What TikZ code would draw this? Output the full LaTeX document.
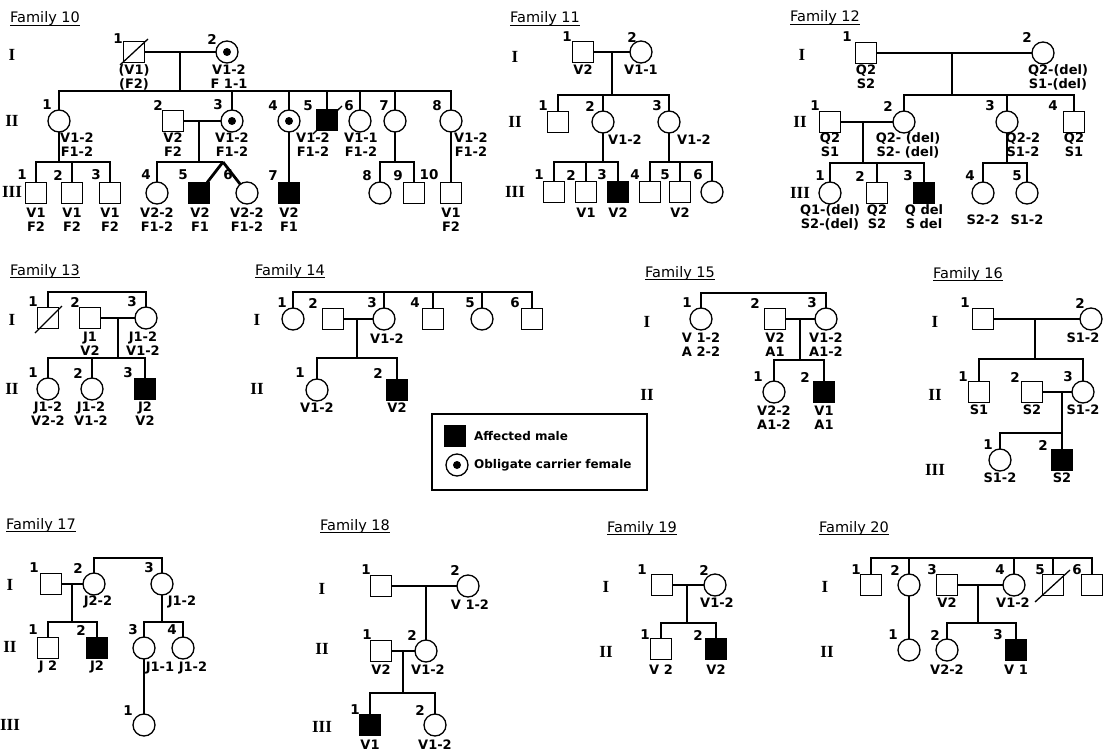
\documentclass[tikz,border=0pt]{standalone}
\usepackage{fontspec}
\setmainfont{DejaVu Sans}
\newfontfamily\pdRomFace{Liberation Serif}
\newcommand\pdRom{\pdRomFace\bfseries\fontsize{17}{17}\selectfont}
\newcommand\pdNum{\bfseries\fontsize{13.5}{13.5}\selectfont}
\newcommand\pdGt{\bfseries\fontsize{13}{14}\selectfont}
\newcommand\pdTtl{\fontsize{14.5}{15}\selectfont}
\newcommand\pdLeg{\bfseries\fontsize{12}{12}\selectfont}
\tikzset{
  base/.style={draw, line width=1.3pt, inner sep=0pt, outer sep=0pt},
  male/.style={base, rectangle, minimum size=21pt},
  female/.style={base, circle, minimum size=22pt},
  affm/.style={male, fill=black},
  carrier/.style={female, path picture={\fill (path picture bounding box.center) circle (4pt);}},
  conn/.style={line width=2.8pt},
  slash/.style={line width=1.3pt},
  num/.style={font=\pdNum, inner sep=0pt},
  gtl/.style={font=\pdGt, inner sep=0pt, align=center},
  rom/.style={font=\pdRom, inner sep=0pt},
  ttl/.style={font=\pdTtl, inner sep=0pt, anchor=base west},
  uline/.style={line width=1.4pt},
  lgt/.style={font=\pdLeg, inner sep=0pt, anchor=west},
}
\newcommand\pdP[7]{\node[#1] (#2) at (#3,#4) {}; \node[num] (#2n) at (#6,#7) {#5};}
\newcommand\pdG[4]{\node[gtl] (#1) at (#2,#3) {#4};}
\newcommand\pdT[4]{\node[ttl] (#1) at (#2,#3) {#4}; \draw[uline] ([yshift=-2.5pt]#1.base west) -- ([yshift=-2.5pt]#1.base east);}
\begin{document}
\begin{tikzpicture}[x=1pt,y=-1pt]
\useasboundingbox (0,0) rectangle (1103,752);

% ================= Family 10
\pdT{t10}{10}{23}{Family 10}
\node[rom] (r10a) at (12,55) {I};
\node[rom] (r10b) at (12,121) {II};
\node[rom] (r10c) at (12,192) {III};
\pdP{male}{f10a1}{134}{52}{1}{118}{39}
\draw[slash] ([shift={(-14,13)}]f10a1.center) -- ([shift={(14,-13)}]f10a1.center);
\pdP{carrier}{f10a2}{227}{52}{2}{212}{39}
\draw[conn] (f10a1) -- (f10a2);
\coordinate (f10m1) at (180,52);
\coordinate (f10d1) at (180,91);
\draw[conn] (f10m1) -- (f10d1);
\pdP{female}{f10b1}{59}{121}{1}{47}{105}
\pdP{male}{f10b2}{173}{121}{2}{158}{105}
\pdP{carrier}{f10b3}{232}{121}{3}{218}{105}
\pdP{carrier}{f10b4}{289}{121}{4}{273}{106}
\pdP{affm}{f10b5}{327}{120}{5}{308}{106}
\draw[slash] ([shift={(-14,14)}]f10b5.center) -- ([shift={(15,-14)}]f10b5.center);
\pdP{female}{f10b6}{360}{121}{6}{349}{106}
\pdP{female}{f10b7}{395}{121}{7}{384}{106}
\pdP{female}{f10b8}{451}{121}{8}{437}{106}
\foreach \k in {b1,b3,b4,b5,b6,b7,b8} \draw[conn] (f10d1) -| (f10\k);
\draw[conn] (f10b2) -- (f10b3);
\coordinate (f10m2) at (199,121);
\coordinate (f10d2) at (199,162);
\draw[conn] (f10m2) -- (f10d2);
\coordinate (f10d0) at (59,162);
\draw[conn] (f10b1) -- (f10d0);
\pdP{male}{f10c1}{36}{193}{1}{22}{175}
\pdP{male}{f10c2}{72}{193}{2}{58}{175}
\pdP{male}{f10c3}{110}{193}{3}{96}{175}
\foreach \k in {c1,c2,c3} \draw[conn] (f10d0) -| (f10\k);
\pdP{female}{f10c4}{157}{193}{4}{146}{175}
\pdP{affm}{f10c5}{199}{193}{5}{183}{175}
\pdP{female}{f10c6}{247}{193}{6}{228}{175}
\draw[conn] (f10d2) -| (f10c4);
\coordinate (f10tw) at (223,162);
\draw[conn] (f10d2) -- (f10tw);
\draw[conn] (f10tw) -- (f10c5);
\draw[conn] (f10tw) -- (f10c6);
\pdP{affm}{f10c7}{289}{193}{7}{273}{176}
\draw[conn] (f10b4) -- (f10c7);
\coordinate (f10d3) at (395,162);
\draw[conn] (f10b7) -- (f10d3);
\pdP{female}{f10c8}{380}{193}{8}{367}{176}
\pdP{male}{f10c9}{414}{193}{9}{398}{176}
\foreach \k in {c8,c9} \draw[conn] (f10d3) -| (f10\k);
\pdP{male}{f10c10}{451}{193}{10}{429}{175}
\draw[conn] (f10b8) -- (f10c10);
\pdG{f10g1}{134}{77}{(V1)\\(F2)}
\pdG{f10g2}{229}{77}{V1-2\\F 1-1}
\pdG{f10g3}{77}{145}{V1-2\\F1-2}
\pdG{f10g4}{173}{145}{V2\\F2}
\pdG{f10g5}{232}{145}{V1-2\\F1-2}
\pdG{f10g6}{313}{145}{V1-2\\F1-2}
\pdG{f10g7}{361}{145}{V1-1\\F1-2}
\pdG{f10g8}{471}{145}{V1-2\\F1-2}
\pdG{f10g9}{36}{220}{V1\\F2}
\pdG{f10g10}{72}{220}{V1\\F2}
\pdG{f10g11}{110}{220}{V1\\F2}
\pdG{f10g12}{157}{220}{V2-2\\F1-2}
\pdG{f10g13}{200}{220}{V2\\F1}
\pdG{f10g14}{247}{220}{V2-2\\F1-2}
\pdG{f10g15}{289}{220}{V2\\F1}
\pdG{f10g16}{451}{220}{V1\\F2}

% ================= Family 11
\pdT{t11}{510}{23}{Family 11}
\node[rom] (r11a) at (515,57) {I};
\node[rom] (r11b) at (515,122) {II};
\node[rom] (r11c) at (515,192) {III};
\pdP{male}{f11a1}{583}{52}{1}{567}{37}
\pdP{female}{f11a2}{641}{52}{2}{632}{37}
\draw[conn] (f11a1) -- (f11a2);
\coordinate (f11m1) at (612,52);
\coordinate (f11d1) at (612,95);
\draw[conn] (f11m1) -- (f11d1);
\pdP{male}{f11b1}{558}{122}{1}{543}{106}
\pdP{female}{f11b2}{603}{122}{2}{590}{106}
\pdP{female}{f11b3}{669}{122}{3}{657}{106}
\foreach \k in {b1,b2,b3} \draw[conn] (f11d1) -| (f11\k);
\coordinate (f11d2) at (603,162);
\coordinate (f11d3) at (669,162);
\draw[conn] (f11b2) -- (f11d2);
\draw[conn] (f11b3) -- (f11d3);
\pdP{male}{f11c1}{554}{192}{1}{539}{175}
\pdP{male}{f11c2}{586}{192}{2}{571}{175}
\pdP{affm}{f11c3}{618}{192}{3}{602}{175}
\pdP{male}{f11c4}{650}{192}{4}{635}{175}
\pdP{male}{f11c5}{680}{192}{5}{665}{175}
\pdP{female}{f11c6}{712}{192}{6}{698}{175}
\foreach \k in {c1,c2,c3} \draw[conn] (f11d2) -| (f11\k);
\foreach \k in {c4,c5,c6} \draw[conn] (f11d3) -| (f11\k);
\pdG{f11g1}{583}{70}{V2}
\pdG{f11g2}{641}{70}{V1-1}
\pdG{f11g3}{625}{140}{V1-2}
\pdG{f11g4}{694}{140}{V1-2}
\pdG{f11g5}{586}{213}{V1}
\pdG{f11g6}{618}{213}{V2}
\pdG{f11g7}{680}{213}{V2}

% ================= Family 12
\pdT{t12}{790}{22}{Family 12}
\node[rom] (r12a) at (802,55) {I};
\node[rom] (r12b) at (800,122) {II};
\node[rom] (r12c) at (800,193) {III};
\pdP{male}{f12a1}{866}{53}{1}{847}{37}
\pdP{female}{f12a2}{1043}{53}{2}{1027}{37}
\draw[conn] (f12a1) -- (f12a2);
\coordinate (f12m1) at (952,53);
\coordinate (f12d1) at (952,95);
\draw[conn] (f12m1) -- (f12d1);
\pdP{male}{f12b1}{830}{122}{1}{815}{106}
\pdP{female}{f12b2}{904}{122}{2}{888}{106}
\pdP{female}{f12b3}{1007}{122}{3}{990}{106}
\pdP{male}{f12b4}{1074}{122}{4}{1053}{106}
\foreach \k in {b2,b3,b4} \draw[conn] (f12d1) -| (f12\k);
\draw[conn] (f12b1) -- (f12b2);
\coordinate (f12m2) at (863,122);
\coordinate (f12d2) at (863,163);
\draw[conn] (f12m2) -- (f12d2);
\pdP{female}{f12c1}{830}{193}{1}{820}{176}
\pdP{male}{f12c2}{877}{193}{2}{860}{176}
\pdP{affm}{f12c3}{924}{193}{3}{908}{176}
\foreach \k in {c1,c2,c3} \draw[conn] (f12d2) -| (f12\k);
\coordinate (f12d3) at (1007,163);
\draw[conn] (f12b3) -- (f12d3);
\pdP{female}{f12c4}{983}{193}{4}{970}{176}
\pdP{female}{f12c5}{1027}{193}{5}{1017}{176}
\foreach \k in {c4,c5} \draw[conn] (f12d3) -| (f12\k);
\pdG{f12g1}{866}{77}{Q2\\S2}
\pdG{f12g2}{1058}{77}{Q2-(del)\\S1-(del)}
\pdG{f12g3}{830}{145}{Q2\\S1}
\pdG{f12g4}{908}{145}{Q2- (del)\\S2- (del)}
\pdG{f12g5}{1023}{145}{Q2-2\\S1-2}
\pdG{f12g6}{1074}{145}{Q2\\S1}
\pdG{f12g7}{830}{217}{Q1-(del)\\S2-(del)}
\pdG{f12g8}{877}{217}{Q2\\S2}
\pdG{f12g9}{924}{217}{Q del\\S del}
\pdG{f12g10}{983}{220}{S2-2}
\pdG{f12g11}{1027}{220}{S1-2}

% ================= Family 13
\pdT{t13}{10}{275}{Family 13}
\node[rom] (r13a) at (12,320) {I};
\node[rom] (r13b) at (12,389) {II};
\pdP{male}{f13a1}{48}{318}{1}{33}{302}
\draw[slash] ([shift={(-13,15)}]f13a1.center) -- ([shift={(14,-12)}]f13a1.center);
\pdP{male}{f13a2}{90}{318}{2}{75}{302}
\pdP{female}{f13a3}{146}{318}{3}{132}{302}
\coordinate (f13t) at (97,292);
\foreach \k in {a1,a3} \draw[conn] (f13t) -| (f13\k);
\draw[conn] (f13a2) -- (f13a3);
\coordinate (f13m1) at (118,318);
\coordinate (f13d1) at (118,358);
\draw[conn] (f13m1) -- (f13d1);
\pdP{female}{f13b1}{48}{389}{1}{33}{373}
\pdP{female}{f13b2}{92}{389}{2}{78}{373}
\pdP{affm}{f13b3}{145}{389}{3}{128}{373}
\foreach \k in {b1,b2,b3} \draw[conn] (f13d1) -| (f13\k);
\pdG{f13g1}{90}{344}{J1\\V2}
\pdG{f13g2}{143}{344}{J1-2\\V1-2}
\pdG{f13g3}{48}{414}{J1-2\\V2-2}
\pdG{f13g4}{91}{414}{J1-2\\V1-2}
\pdG{f13g5}{145}{414}{J2\\V2}

% ================= Family 14
\pdT{t14}{255}{275}{Family 14}
\node[rom] (r14a) at (257,320) {I};
\node[rom] (r14b) at (257,389) {II};
\pdP{female}{f14a1}{293}{319}{1}{282}{303}
\pdP{male}{f14a2}{333}{319}{2}{313}{303}
\pdP{female}{f14a3}{384}{319}{3}{372}{303}
\pdP{male}{f14a4}{433}{319}{4}{415}{303}
\pdP{female}{f14a5}{482}{319}{5}{470}{303}
\pdP{male}{f14a6}{532}{319}{6}{515}{303}
\coordinate (f14t) at (412,292);
\foreach \k in {a1,a3,a4,a5,a6} \draw[conn] (f14t) -| (f14\k);
\draw[conn] (f14a2) -- (f14a3);
\coordinate (f14m1) at (357,319);
\coordinate (f14d1) at (357,358);
\draw[conn] (f14m1) -- (f14d1);
\pdP{female}{f14b1}{317}{390}{1}{300}{373}
\pdP{affm}{f14b2}{397}{390}{2}{378}{373}
\foreach \k in {b1,b2} \draw[conn] (f14d1) -| (f14\k);
\pdG{f14g1}{387}{339}{V1-2}
\pdG{f14g2}{317}{408}{V1-2}
\pdG{f14g3}{397}{408}{V2}

% ================= Legend
\node[draw, line width=1.5pt, minimum width=215pt, minimum height=76pt, inner sep=0pt] (leg) at (539.5,452) {};
\node[affm] (legm) at (455,436) {};
\node[carrier] (legc) at (457,465) {};
\node[lgt] (legt1) at (474,436) {Affected male};
\node[lgt] (legt2) at (474,465) {Obligate carrier female};

% ================= Family 15
\pdT{t15}{645}{277}{Family 15}
\node[rom] (r15a) at (647,322) {I};
\node[rom] (r15b) at (647,395) {II};
\pdP{female}{f15a1}{701}{319}{1}{687}{303}
\pdP{male}{f15a2}{775}{319}{2}{755}{303}
\pdP{female}{f15a3}{826}{319}{3}{812}{303}
\coordinate (f15t) at (763,293);
\foreach \k in {a1,a3} \draw[conn] (f15t) -| (f15\k);
\draw[conn] (f15a2) -- (f15a3);
\coordinate (f15m1) at (800,319);
\coordinate (f15d1) at (800,360);
\draw[conn] (f15m1) -- (f15d1);
\pdP{female}{f15b1}{774}{392}{1}{758}{377}
\pdP{affm}{f15b2}{824}{392}{2}{805}{377}
\foreach \k in {b1,b2} \draw[conn] (f15d1) -| (f15\k);
\pdG{f15g1}{701}{345}{V 1-2\\A 2-2}
\pdG{f15g2}{775}{345}{V2\\A1}
\pdG{f15g3}{826}{345}{V1-2\\A1-2}
\pdG{f15g4}{774}{418}{V2-2\\A1-2}
\pdG{f15g5}{824}{418}{V1\\A1}

% ================= Family 16
\pdT{t16}{933}{278}{Family 16}
\node[rom] (r16a) at (935,322) {I};
\node[rom] (r16b) at (935,395) {II};
\node[rom] (r16c) at (935,470) {III};
\pdP{male}{f16a1}{983}{319}{1}{965}{303}
\pdP{female}{f16a2}{1091}{319}{2}{1080}{303}
\draw[conn] (f16a1) -- (f16a2);
\coordinate (f16m1) at (1035,319);
\coordinate (f16d1) at (1035,359);
\draw[conn] (f16m1) -- (f16d1);
\pdP{male}{f16b1}{979}{392}{1}{963}{377}
\pdP{male}{f16b2}{1032}{392}{2}{1015}{377}
\pdP{female}{f16b3}{1083}{392}{3}{1068}{377}
\foreach \k in {b1,b3} \draw[conn] (f16d1) -| (f16\k);
\draw[conn] (f16b2) -- (f16b3);
\coordinate (f16m2) at (1062,392);
\coordinate (f16d2) at (1062,433);
\draw[conn] (f16m2) -- (f16d2);
\pdP{female}{f16c1}{1000}{460}{1}{988}{445}
\pdP{affm}{f16c2}{1062}{460}{2}{1043}{445}
\foreach \k in {c1,c2} \draw[conn] (f16d2) -| (f16\k);
\pdG{f16g1}{1083}{338}{S1-2}
\pdG{f16g2}{979}{410}{S1}
\pdG{f16g3}{1032}{410}{S2}
\pdG{f16g4}{1083}{410}{S1-2}
\pdG{f16g5}{1000}{478}{S1-2}
\pdG{f16g6}{1062}{478}{S2}

% ================= Family 17
\pdT{t17}{6}{529}{Family 17}
\node[rom] (r17a) at (10,585) {I};
\node[rom] (r17b) at (10,647) {II};
\node[rom] (r17c) at (10,725) {III};
\pdP{male}{f17a1}{51}{584}{1}{34}{568}
\pdP{female}{f17a2}{94}{584}{2}{78}{568}
\pdP{female}{f17a3}{162}{584}{3}{149}{568}
\coordinate (f17t) at (128,558);
\foreach \k in {a2,a3} \draw[conn] (f17t) -| (f17\k);
\draw[conn] (f17a1) -- (f17a2);
\coordinate (f17m1) at (72,584);
\coordinate (f17d1) at (72,622);
\draw[conn] (f17m1) -- (f17d1);
\pdP{male}{f17b1}{48}{648}{1}{33}{630}
\pdP{affm}{f17b2}{97}{648}{2}{81}{630}
\foreach \k in {b1,b2} \draw[conn] (f17d1) -| (f17\k);
\coordinate (f17d2) at (162,622);
\draw[conn] (f17a3) -- (f17d2);
\pdP{female}{f17b3}{144}{648}{3}{133}{630}
\pdP{female}{f17b4}{183}{648}{4}{172}{630}
\foreach \k in {b3,b4} \draw[conn] (f17d2) -| (f17\k);
\pdP{female}{f17c1}{144}{725}{1}{128}{711}
\draw[conn] (f17b3) -- (f17c1);
\pdG{f17g1}{98}{602}{J2-2}
\pdG{f17g2}{182}{602}{J1-2}
\pdG{f17g3}{48}{667}{J 2}
\pdG{f17g4}{97}{667}{J2}
\pdG{f17g5}{160}{668}{J1-1}
\pdG{f17g6}{193}{668}{J1-2}

% ================= Family 18
\pdT{t18}{320}{530}{Family 18}
\node[rom] (r18a) at (322,589) {I};
\node[rom] (r18b) at (322,649) {II};
\node[rom] (r18c) at (322,727) {III};
\pdP{male}{f18a1}{381}{586}{1}{366}{570}
\pdP{female}{f18a2}{468}{586}{2}{455}{570}
\draw[conn] (f18a1) -- (f18a2);
\coordinate (f18m1) at (426,586);
\pdP{male}{f18b1}{381}{651}{1}{367}{635}
\pdP{female}{f18b2}{426}{651}{2}{412}{635}
\draw[conn] (f18m1) -- (f18b2);
\draw[conn] (f18b1) -- (f18b2);
\coordinate (f18m2) at (403,651);
\coordinate (f18d2) at (403,693);
\draw[conn] (f18m2) -- (f18d2);
\pdP{affm}{f18c1}{370}{725}{1}{355}{710}
\pdP{female}{f18c2}{435}{725}{2}{420}{710}
\foreach \k in {c1,c2} \draw[conn] (f18d2) -| (f18\k);
\pdG{f18g1}{470}{605}{V 1-2}
\pdG{f18g2}{381}{670}{V2}
\pdG{f18g3}{428}{670}{V1-2}
\pdG{f18g4}{370}{745}{V1}
\pdG{f18g5}{435}{745}{V1-2}

% ================= Family 19
\pdT{t19}{607}{532}{Family 19}
\node[rom] (r19a) at (606,587) {I};
\node[rom] (r19b) at (606,652) {II};
\pdP{male}{f19a1}{662}{585}{1}{642}{570}
\pdP{female}{f19a2}{715}{585}{2}{704}{570}
\draw[conn] (f19a1) -- (f19a2);
\coordinate (f19m1) at (687,585);
\coordinate (f19d1) at (687,623);
\draw[conn] (f19m1) -- (f19d1);
\pdP{male}{f19b1}{661}{649}{1}{645}{635}
\pdP{affm}{f19b2}{716}{649}{2}{698}{635}
\foreach \k in {b1,b2} \draw[conn] (f19d1) -| (f19\k);
\pdG{f19g1}{717}{603}{V1-2}
\pdG{f19g2}{661}{670}{V 2}
\pdG{f19g3}{716}{670}{V2}

% ================= Family 20
\pdT{t20}{819}{532}{Family 20}
\node[rom] (r20a) at (825,587) {I};
\node[rom] (r20b) at (827,652) {II};
\pdP{male}{f20a1}{871}{585}{1}{856}{570}
\pdP{female}{f20a2}{909}{585}{2}{895}{570}
\pdP{male}{f20a3}{947}{585}{3}{932}{570}
\pdP{female}{f20a4}{1014}{585}{4}{1000}{570}
\pdP{male}{f20a5}{1053}{585}{5}{1040}{570}
\draw[slash] ([shift={(-18,17)}]f20a5.center) -- ([shift={(17,-15)}]f20a5.center);
\pdP{male}{f20a6}{1092}{585}{6}{1077}{570}
\coordinate (f20t) at (980,558);
\foreach \k in {a1,a2,a4,a5,a6} \draw[conn] (f20t) -| (f20\k);
\draw[conn] (f20a3) -- (f20a4);
\coordinate (f20m1) at (978,585);
\coordinate (f20d1) at (978,623);
\draw[conn] (f20m1) -- (f20d1);
\pdP{female}{f20b1}{909}{650}{1}{893}{635}
\pdP{female}{f20b2}{947}{650}{2}{935}{635}
\pdP{affm}{f20b3}{1016}{650}{3}{998}{635}
\draw[conn] (f20a2) -- (f20b1);
\foreach \k in {b2,b3} \draw[conn] (f20d1) -| (f20\k);
\pdG{f20g1}{947}{603}{V2}
\pdG{f20g2}{1013}{603}{V1-2}
\pdG{f20g3}{947}{670}{V2-2}
\pdG{f20g4}{1016}{670}{V 1}
\end{tikzpicture}
\end{document}
